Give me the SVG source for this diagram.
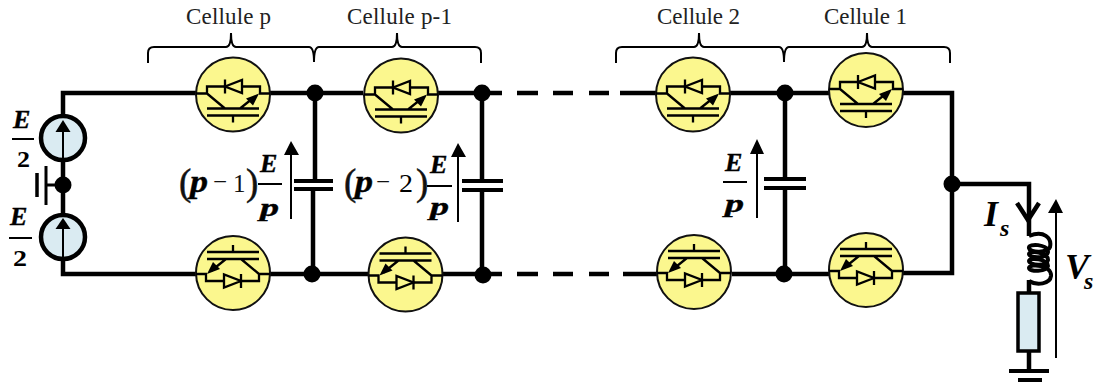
<svg xmlns="http://www.w3.org/2000/svg" width="1094" height="385" viewBox="0 0 1094 385">
<style>
.w{fill:none;stroke:#000;stroke-width:4.5}
.p{fill:none;stroke:#000;stroke-width:4}
.t{fill:none;stroke:#000;stroke-width:2}
.s{fill:none;stroke:#000;stroke-width:2.300}
.d{fill:#000}
.l{font-family:"Liberation Serif","Times New Roman",serif;font-size:23px;fill:#222}
.m{font-family:"Liberation Serif","Times New Roman",serif;font-size:26px;font-weight:bold;font-style:italic;fill:#000;stroke:#000;stroke-width:.4}
.q{font-size:31px}
.n{font-family:"Liberation Serif","Times New Roman",serif;font-size:25px;fill:#111}
.par{font-family:"Liberation Serif","Times New Roman",serif;font-size:37px;fill:#111;stroke:#111;stroke-width:.5}
.two{font-family:"Liberation Serif","Times New Roman",serif;font-size:24px;font-weight:bold;fill:#000}
.big{font-family:"Liberation Serif","Times New Roman",serif;font-size:36px;font-weight:bold;font-style:italic;fill:#000}
.sub{font-family:"Liberation Serif","Times New Roman",serif;font-size:24px;font-weight:bold;font-style:italic;fill:#000}
</style>
<defs>
<g id="igbt">
<circle r="37" fill="#fbf78e" stroke="#111" stroke-width="2"/>
<path class="s" d="M-37-1H-26V-8H27V-1H37M-26-1L-8 14M7 14L22 2M-26 14H26M-26 21H26M0 21V28M-8-15V-1"/>
<path d="M-8-8L9-14.500V-1.500Z" fill="#fbf78e" stroke="#000" stroke-width="2.300"/>
<path class="d" d="M26-1L13 4L20 11Z"/>
</g>
<g id="src">
<circle r="22" fill="#daebf2" stroke="#000" stroke-width="4.5"/>
</g>
</defs>
<g id="connectors">
<path class="w" d="M196 93H63V116M63 160V215M63 260V274H196"/>
<path class="w" d="M270 93H363M438 93H502M517 93H538M553 93H573M589 93H609M620 93H656M730 93H829M903 93H952V273H903"/>
<path class="w" d="M270 274H368M443 274H502M517 274H538M553 274H573M589 274H609M623 274H657M732 274H829"/>
<path class="w" d="M315 93V181M313 189V274M482 93V181M482 190V275M785 93V179M785 188V274"/>
<path class="w" d="M952 184H1029V236M1029 280V292M1029 352V372"/>
<path class="p" d="M294 181H333M294 189H333M462 181H503M462 190H503M764 179H806M764 188H806"/>
<path d="M1017 203L1028 220L1039 203" fill="none" stroke="#000" stroke-width="4.5"/>
<path d="M1029 236C1044 230 1052 238 1050 247C1048 253 1030 253 1029 248C1028 243 1048 244 1048 252C1047 259 1029 258 1029 254C1029 250 1048 252 1048 260C1047 267 1029 265 1029 261C1029 257 1048 259 1048 266C1047 272 1029 272 1029 268C1030 263 1052 265 1051 276C1050 284 1037 286 1029 281" fill="none" stroke="#000" stroke-width="4"/>
<path class="p" d="M1009 371H1049M1018 380H1042"/>
<path class="t" d="M148 63V53Q148 47 154 47H226Q231 47 231 33Q231 47 236 47H309Q314 47 314 62Q314 47 319 47H392Q397 47 397 33Q397 47 402 47H475Q481 47 481 53V63"/>
<path class="t" d="M616 63V53Q616 47 622 47H694Q699 47 699 33Q699 47 704 47H779Q784 47 784 62Q784 47 789 47H862Q867 47 867 33Q867 47 872 47H944Q950 47 950 53V63"/>
<path class="t" d="M291 219V150M458 222V152M757 218V149M1056 358V208"/>
<path class="d" d="M291 141L284 155H299ZM458 143L451 157H466ZM757 139L750 154H764ZM1056 199L1048 213H1063Z"/>
<g class="d"><circle cx="315" cy="93" r="8.5"/><circle cx="482" cy="93" r="8.5"/><circle cx="312" cy="274" r="8.5"/><circle cx="483" cy="275" r="8.5"/><circle cx="785" cy="93" r="8.5"/><circle cx="784" cy="274" r="8.5"/><circle cx="952" cy="184" r="8.5"/><circle cx="63" cy="185" r="8.5"/></g>
</g>
<g id="source-top" transform="translate(63 138)"><use href="#src"/><path class="t" d="M0 22V-8"/><path class="d" d="M0-18L-7.500-6H7.500Z"/></g>
<g id="source-bottom" transform="translate(63 237)"><use href="#src"/><path class="t" d="M0 24V-8"/><path class="d" d="M0-19L-7.500-8H7.500Z"/></g>
<g id="battery"><path d="M63 185H46" stroke="#000" stroke-width="3"/><path d="M46 166V205" stroke="#000" stroke-width="3"/><path d="M37 173V197" stroke="#000" stroke-width="3.500"/></g>
<g id="switch-p-top" transform="translate(233 94.500)"><use href="#igbt"/></g>
<g id="switch-p1-top" transform="translate(401 95.500)"><use href="#igbt"/></g>
<g id="switch-2-top" transform="translate(693 94.500)"><use href="#igbt"/></g>
<g id="switch-1-top" transform="translate(866 90)"><use href="#igbt"/></g>
<g id="switch-p-bottom" transform="translate(233 273) rotate(180)"><use href="#igbt"/></g>
<g id="switch-p1-bottom" transform="translate(405.500 274.500) rotate(180)"><use href="#igbt"/></g>
<g id="switch-2-bottom" transform="translate(694 272) rotate(180)"><use href="#igbt"/></g>
<g id="switch-1-bottom" transform="translate(866 270) rotate(180)"><use href="#igbt"/></g>
<g id="resistor"><rect x="1018" y="293" width="21" height="58" fill="#daebf2" stroke="#000" stroke-width="3.500"/></g>
<g id="labels">
<text class="l" x="186" y="24" textLength="85">Cellule p</text>
<text class="l" x="347" y="24" textLength="105">Cellule p-1</text>
<text class="l" x="657" y="24" textLength="83">Cellule 2</text>
<text class="l" x="824" y="24" textLength="83">Cellule 1</text>
<text class="m" x="13" y="128">E</text><path class="t" d="M12 139H34"/><text class="two" x="17" y="167" textLength="13" lengthAdjust="spacingAndGlyphs">2</text>
<text class="m" x="10" y="225">E</text><path class="t" d="M9 238H32"/><text class="two" x="13" y="266" textLength="14" lengthAdjust="spacingAndGlyphs">2</text>
<text class="par" x="179" y="195">(</text><text class="m q" x="190" y="192" textLength="18" lengthAdjust="spacingAndGlyphs">p</text><text class="n" x="213" y="190">−</text><text class="n" x="233" y="192">1</text><text class="par" x="246" y="195">)</text>
<text class="m" x="260" y="172">E</text><path class="t" d="M258 184H282"/><text class="m" x="260" y="216" textLength="19" lengthAdjust="spacingAndGlyphs">p</text>
<text class="par" x="344" y="195">(</text><text class="m q" x="355" y="192" textLength="18" lengthAdjust="spacingAndGlyphs">p</text><text class="n" x="376" y="190">−</text><text class="two" style="font-weight:normal;font-size:25px" x="399" y="192" textLength="14" lengthAdjust="spacingAndGlyphs">2</text><text class="par" x="416" y="195">)</text>
<text class="m" x="430" y="173">E</text><path class="t" d="M427 186H452"/><text class="m" x="430" y="215" textLength="19" lengthAdjust="spacingAndGlyphs">p</text>
<text class="m" x="725" y="171">E</text><path class="t" d="M723 182H747"/><text class="m" x="725" y="212" textLength="19" lengthAdjust="spacingAndGlyphs">p</text>
<text class="big" x="984" y="226">I</text><text class="sub" x="1000" y="236">s</text>
<text class="big" x="1065" y="279">V</text><text class="sub" x="1084" y="289">s</text>
</g>
</svg>
